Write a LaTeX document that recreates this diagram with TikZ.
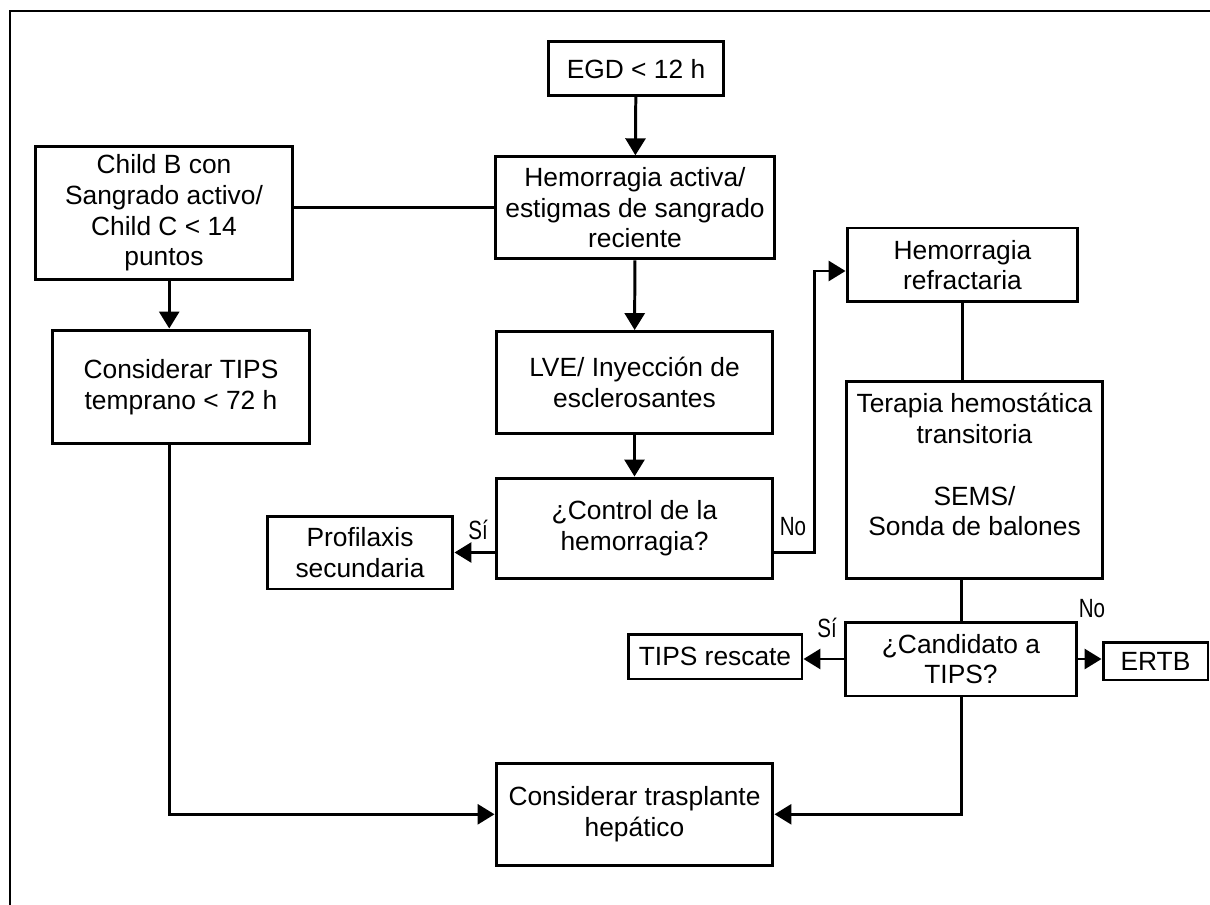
\documentclass[tikz,border=0pt]{standalone}
\usepackage{fontspec}
\setmainfont{Liberation Sans}
\usepackage{tikz}
\usetikzlibrary{arrows.meta, calc}
\newcommand{\narrow}[1]{\scalebox{0.78}[1]{#1}}

\begin{document}
\begin{tikzpicture}[x=0.02cm, y=-0.02cm,
  box/.style={draw, line width=1.7pt, align=center, inner sep=2pt,
    font=\fontsize{15}{17.5}\selectfont},
  link/.style={line width=1.7pt},
  arr/.style={line width=1.7pt, -{Triangle[length=0.34cm, width=0.4cm]}},
  lbl/.style={inner sep=0pt, font=\fontsize{15}{17}\selectfont}]
  % units are pixels of the original figure, y grows downwards
  \useasboundingbox (0,0) rectangle (1210,905);
  % outer frame (left and top only)
  \draw[line width=1.7pt] (10,905) -- (10,11) -- (1210,11);
  % central column
  \node[box, minimum width=3.52cm, minimum height=1.08cm] (egd) at (636,68.7) {EGD < 12 h};
  \node[box, minimum width=5.6cm, minimum height=2.04cm] (hem) at (635,207.8) {Hemorragia activa/\\estigmas de sangrado\\reciente};
  \node[box, minimum width=5.54cm, minimum height=2.03cm] (lve) at (634.5,382.3) {LVE/ Inyección de\\esclerosantes};
  \node[box, minimum width=5.54cm, minimum height=2.02cm] (ctrl) at (634.5,528.5) {¿Control de la\\hemorragia?};
  \node[box, minimum width=3.72cm, minimum height=1.46cm] (prof) at (360,552.5) {Profilaxis\\secundaria};
  \node[box, minimum width=5.54cm, minimum height=2.03cm] (trasp) at (634.5,814.3) {Considerar trasplante\\hepático};
  % left column
  \node[box, minimum width=5.16cm, minimum height=2.65cm] (child) at (164,212.9) {Child B con\\Sangrado activo/\\Child C < 14\\puntos};
  \node[box, minimum width=5.16cm, minimum height=2.28cm] (tips) at (181,387) {Considerar TIPS\\temprano < 72 h};
  % right column
  \node[box, minimum width=4.62cm, minimum height=1.48cm] (refr) at (962.5,265) {Hemorragia\\refractaria};
  \node[box, minimum width=5.14cm, minimum height=3.96cm] (ter) at (974.5,480) {Terapia hemostática\\transitoria\\ ~\\SEMS/\\Sonda de balones\\ ~};
  \node[box, minimum width=4.64cm, minimum height=1.48cm] (cand) at (961,659) {¿Candidato a\\TIPS?};
  \node[box, minimum width=3.48cm, minimum height=0.9cm] (resc) at (715,656.5) {TIPS rescate};
  \node[box, minimum width=2.1cm, minimum height=0.76cm] (ertb) at (1155.5,661) {ERTB};
  % answer labels
  \node[lbl] (si1) at (478,530) {\narrow{Sí}};
  \node[lbl] (no1) at (793,527) {\narrow{No}};
  \node[lbl] (si2) at (827,628) {\narrow{Sí}};
  \node[lbl] (no2) at (1092,609) {\narrow{No}};
  % connectors
  \draw[arr] (egd) -- (hem);
  \draw[arr] (hem) -- (lve);
  \draw[arr] (lve) -- (ctrl);
  \draw[arr] (ctrl.west |- prof.east) -- (prof.east);
  \draw[link] (child.east |- hem.west) -- (hem.west);
  \coordinate (lft) at ($(child.south west)!0.52!(child.south east)$);
  \draw[arr] (lft) -- (lft |- tips.north);
  \draw[arr] (lft |- tips.south) |- (trasp.west);
  \draw[arr] (ctrl.east |- prof.east) -- ++(40,0) |- ($(refr.west)+(0,6)$);
  \draw[link] (refr.south) -- (refr.south |- ter.north);
  \draw[link] (cand.north |- ter.south) -- (cand.north);
  \draw[arr] (cand.west) -- (cand.west -| resc.east);
  \draw[arr] (cand.east) -- (cand.east -| ertb.west);
  \draw[arr] (cand.south) |- (trasp.east);
\end{tikzpicture}
\end{document}
